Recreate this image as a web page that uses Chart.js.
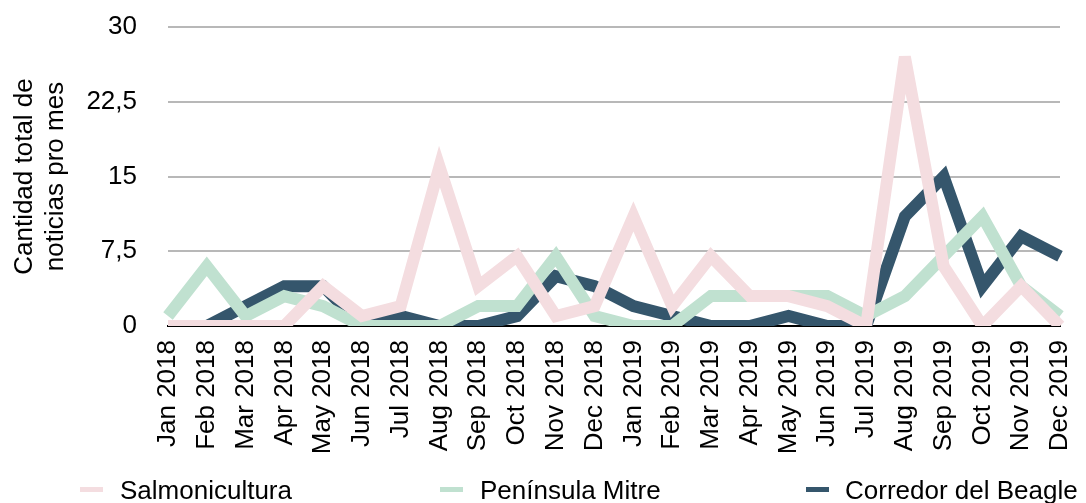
<!DOCTYPE html>
<html>
<head>
<meta charset="utf-8">
<script src="https://cdn.jsdelivr.net/npm/chart.js@4/dist/chart.umd.min.js"></script>
<style>
  html, body { margin: 0; padding: 0; background: #fff; }
  #wrap { position: relative; width: 1086px; height: 503px; overflow: hidden; }
  #legend { position: absolute; left: 0; top: 0; width: 1086px; height: 503px; pointer-events: none;
            font-family: "Liberation Sans", Arial, Helvetica, sans-serif; font-size: 26px; color: #000; }
  .sw { position: absolute; width: 23px; height: 5px; top: 487px; }
  .lt { position: absolute; top: 475px; line-height: 30px; white-space: nowrap; }
</style>
</head>
<body>
<div id="wrap">
  <canvas id="c" width="1086" height="503"></canvas>
  <div id="legend"></div>
</div>
<script>
const months = ["Jan 2018","Feb 2018","Mar 2018","Apr 2018","May 2018","Jun 2018","Jul 2018","Aug 2018","Sep 2018","Oct 2018","Nov 2018","Dec 2018",
                "Jan 2019","Feb 2019","Mar 2019","Apr 2019","May 2019","Jun 2019","Jul 2019","Aug 2019","Sep 2019","Oct 2019","Nov 2019","Dec 2019"];
const salmonicultura   = [0,0,0,0,4,1,2,16,4,7,1,2, 11,2,7,3,3,2,0,27,6,0,4,0];
const peninsulaMitre   = [1,6,1,3,2,0,0,0,2,2,7,1, 0,0,3,3,3,3,1,3,7,11,4,1];
const corredorBeagle   = [0,0,2,4,4,0,1,0,0,1,5,4, 2,1,0,0,1,0,0,11,15,4,9,7];
const yTicks = [0, 7.5, 15, 22.5, 30];
const seriesNames = ["Salmonicultura", "Península Mitre", "Corredor del Beagle"];
const seriesColors = ["#f4dde0", "#c0e1d0", "#35566c"];
const yTitle = ["Cantidad total de", "noticias pro mes"];

const FONT = "'Liberation Sans', Arial, Helvetica, sans-serif";

const miterPlugin = {
  id: 'miter',
  beforeDatasetsDraw(chart) { chart.ctx.miterLimit = 4; }
};

const seriesData = [salmonicultura, peninsulaMitre, corredorBeagle];

const chart = new Chart(document.getElementById('c'), {
  type: 'line',
  data: {
    labels: months,
    datasets: seriesNames.map((name, i) => ({
      label: name,
      data: seriesData[i],
      borderColor: seriesColors[i],
      backgroundColor: seriesColors[i],
      borderWidth: 12,
      pointRadius: 0,
      pointHoverRadius: 0,
      tension: 0,
      borderJoinStyle: 'miter',
      borderCapStyle: 'butt',
      fill: false
    }))
  },
  options: {
    responsive: false,
    animation: false,
    events: [],
    layout: { padding: { top: 27, right: 26, bottom: 40, left: 0 } },
    plugins: {
      legend: { display: false },
      tooltip: { enabled: false },
      title: { display: false }
    },
    scales: {
      x: {
        offset: false,
        grid: { display: false, drawTicks: false },
        border: { display: true, color: '#000', width: 2 },
        ticks: {
          autoSkip: false,
          minRotation: 90,
          maxRotation: 90,
          padding: 14,
          color: '#000',
          font: { family: FONT, size: 26 }
        },
        afterFit(scale) {
          scale.height = 137;
          scale.paddingLeft = 0;
          scale.paddingRight = 0;
        }
      },
      y: {
        min: 0,
        max: 30,
        afterBuildTicks(scale) { scale.ticks = yTicks.map(v => ({ value: v })); },
        grid: { color: '#b8b8b8', lineWidth: 2, drawTicks: false },
        border: { display: false },
        ticks: {
          padding: 31,
          color: '#000',
          font: { family: FONT, size: 26 },
          callback: (v) => String(v).replace('.', ',')
        },
        title: {
          display: true,
          text: yTitle,
          color: '#000',
          font: { family: FONT, size: 26, lineHeight: 1.2 },
          padding: { top: 9, bottom: 0 }
        },
        afterFit(scale) {
          scale.width = 168;
          scale.paddingTop = 0;
          scale.paddingBottom = 0;
        }
      }
    }
  },
  plugins: [miterPlugin]
});

// HTML legend built from the chart's datasets
const legendEl = document.getElementById('legend');
const swatchX = [80, 440, 806];
const textX = [120, 480, 845];
chart.data.datasets.forEach((ds, i) => {
  const sw = document.createElement('div');
  sw.className = 'sw';
  sw.style.left = swatchX[i] + 'px';
  sw.style.background = ds.borderColor;
  legendEl.appendChild(sw);
  const t = document.createElement('div');
  t.className = 'lt';
  t.style.left = textX[i] + 'px';
  t.textContent = ds.label;
  legendEl.appendChild(t);
});
</script>
</body>
</html>
